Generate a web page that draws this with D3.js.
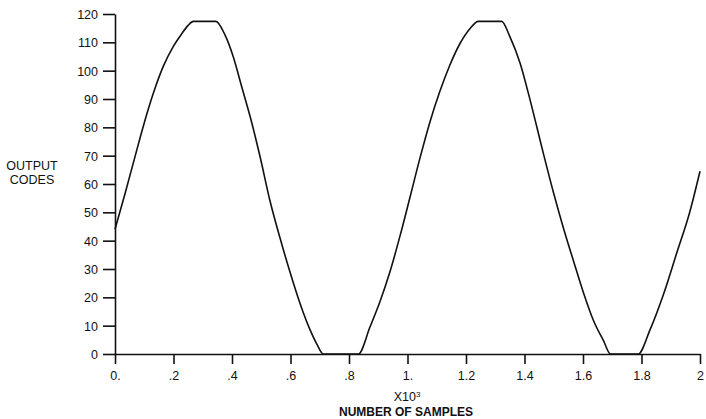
<!DOCTYPE html>
<html>
<head>
<meta charset="utf-8">
<script src="https://cdn.jsdelivr.net/npm/d3@7"></script>
<style>
  body { margin: 0; background: #fff; }
  text { font-family: "Liberation Sans", Arial, sans-serif; fill: #111; }
</style>
</head>
<body>
<div id="content"></div>
<script>
// datas (samples in thousands, output codes)
const samples = [0, 0.034, 0.068, 0.097, 0.131, 0.165, 0.199, 0.228, 0.250, 0.268, 0.345, 0.376, 0.404, 0.433, 0.462, 0.496, 0.530, 0.564, 0.598, 0.632, 0.667, 0.690, 0.712,
                 0.832, 0.872, 0.906, 0.940, 0.974, 1.009, 1.043, 1.077, 1.111, 1.145, 1.179, 1.214, 1.242, 1.322, 1.350, 1.385, 1.419, 1.464, 1.499, 1.533, 1.567, 1.601, 1.635, 1.670, 1.694,
                 1.789, 1.829, 1.875, 1.920, 1.966, 2.0];
const codes = [44, 56.5, 69.5, 80.5, 92, 101.5, 108.5, 113, 116, 117.4, 117.4, 112.6, 105, 94.4, 83.8, 69.6, 54, 41, 29, 18, 8.5, 3.5, 0,
               0, 9.6, 18.5, 29, 41.5, 55.5, 69.3, 82, 92.8, 102, 109.5, 114.9, 117.4, 117.4, 112, 102.6, 89.7, 71, 57, 44.5, 33, 21.8, 12, 4.7, 0,
               0, 8.5, 21, 35.5, 50.5, 64.5];
const xTicks = [0, 0.2, 0.4, 0.6, 0.8, 1, 1.2, 1.4, 1.6, 1.8, 2];
const xTickLabels = ["0.", ".2", ".4", ".6", ".8", "1.", "1.2", "1.4", "1.6", "1.8", "2"];
const yTicks = [0, 10, 20, 30, 40, 50, 60, 70, 80, 90, 100, 110, 120];

// view
const w = 706;
const h = 419;
const mLeft = 115, mRight = 700, mTop = 14, mBottom = 354;

const svg = d3.select("#content")
  .append("svg")
  .attr("width", w)
  .attr("height", h);

const x = d3.scaleLinear().domain([0, 2]).range([mLeft, mRight]);
const y = d3.scaleLinear().domain([0, 120]).range([mBottom, mTop]);

// axes
const gx = svg.append("g")
  .attr("transform", `translate(0,${mBottom})`)
  .call(d3.axisBottom(x).tickValues(xTicks).tickSize(10).tickSizeOuter(0)
    .tickFormat((d, i) => xTickLabels[i]));

const gy = svg.append("g")
  .attr("transform", `translate(${mLeft},0)`)
  .call(d3.axisLeft(y).tickValues(yTicks).tickSize(12).tickSizeOuter(0));

[gx, gy].forEach(g => {
  g.select(".domain").attr("stroke", "#111").attr("stroke-width", 1.6);
  g.selectAll(".tick line").attr("stroke", "#111").attr("stroke-width", 1.6);
  g.selectAll("text").attr("font-size", 12.5).attr("fill", "#111");
});
gx.selectAll("text").attr("dy", "1.05em");
gy.selectAll("text").attr("x", -17).attr("dy", "0.36em");

// line
const pts = samples.map((s, i) => [s, codes[i]]);
svg.append("path")
  .datum(pts)
  .attr("fill", "none")
  .attr("stroke", "#111")
  .attr("stroke-width", 1.6)
  .attr("stroke-linejoin", "round")
  .attr("d", d3.line().x(d => x(d[0])).y(d => y(d[1])).curve(d3.curveMonotoneX));

// titles
svg.append("text").attr("x", 32).attr("y", 170).attr("text-anchor", "middle")
  .attr("font-size", 12.5).text("OUTPUT");
svg.append("text").attr("x", 32).attr("y", 184).attr("text-anchor", "middle")
  .attr("font-size", 12.5).text("CODES");

const xl = svg.append("text").attr("x", 407).attr("y", 401).attr("text-anchor", "middle")
  .attr("font-size", 12.5);
xl.append("tspan").text("X10");
xl.append("tspan").attr("font-size", 8).attr("dy", -4).text("3");

svg.append("text").attr("x", 406).attr("y", 416).attr("text-anchor", "middle")
  .attr("font-size", 12).attr("font-weight", "bold").text("NUMBER OF SAMPLES");
</script>
</body>
</html>
